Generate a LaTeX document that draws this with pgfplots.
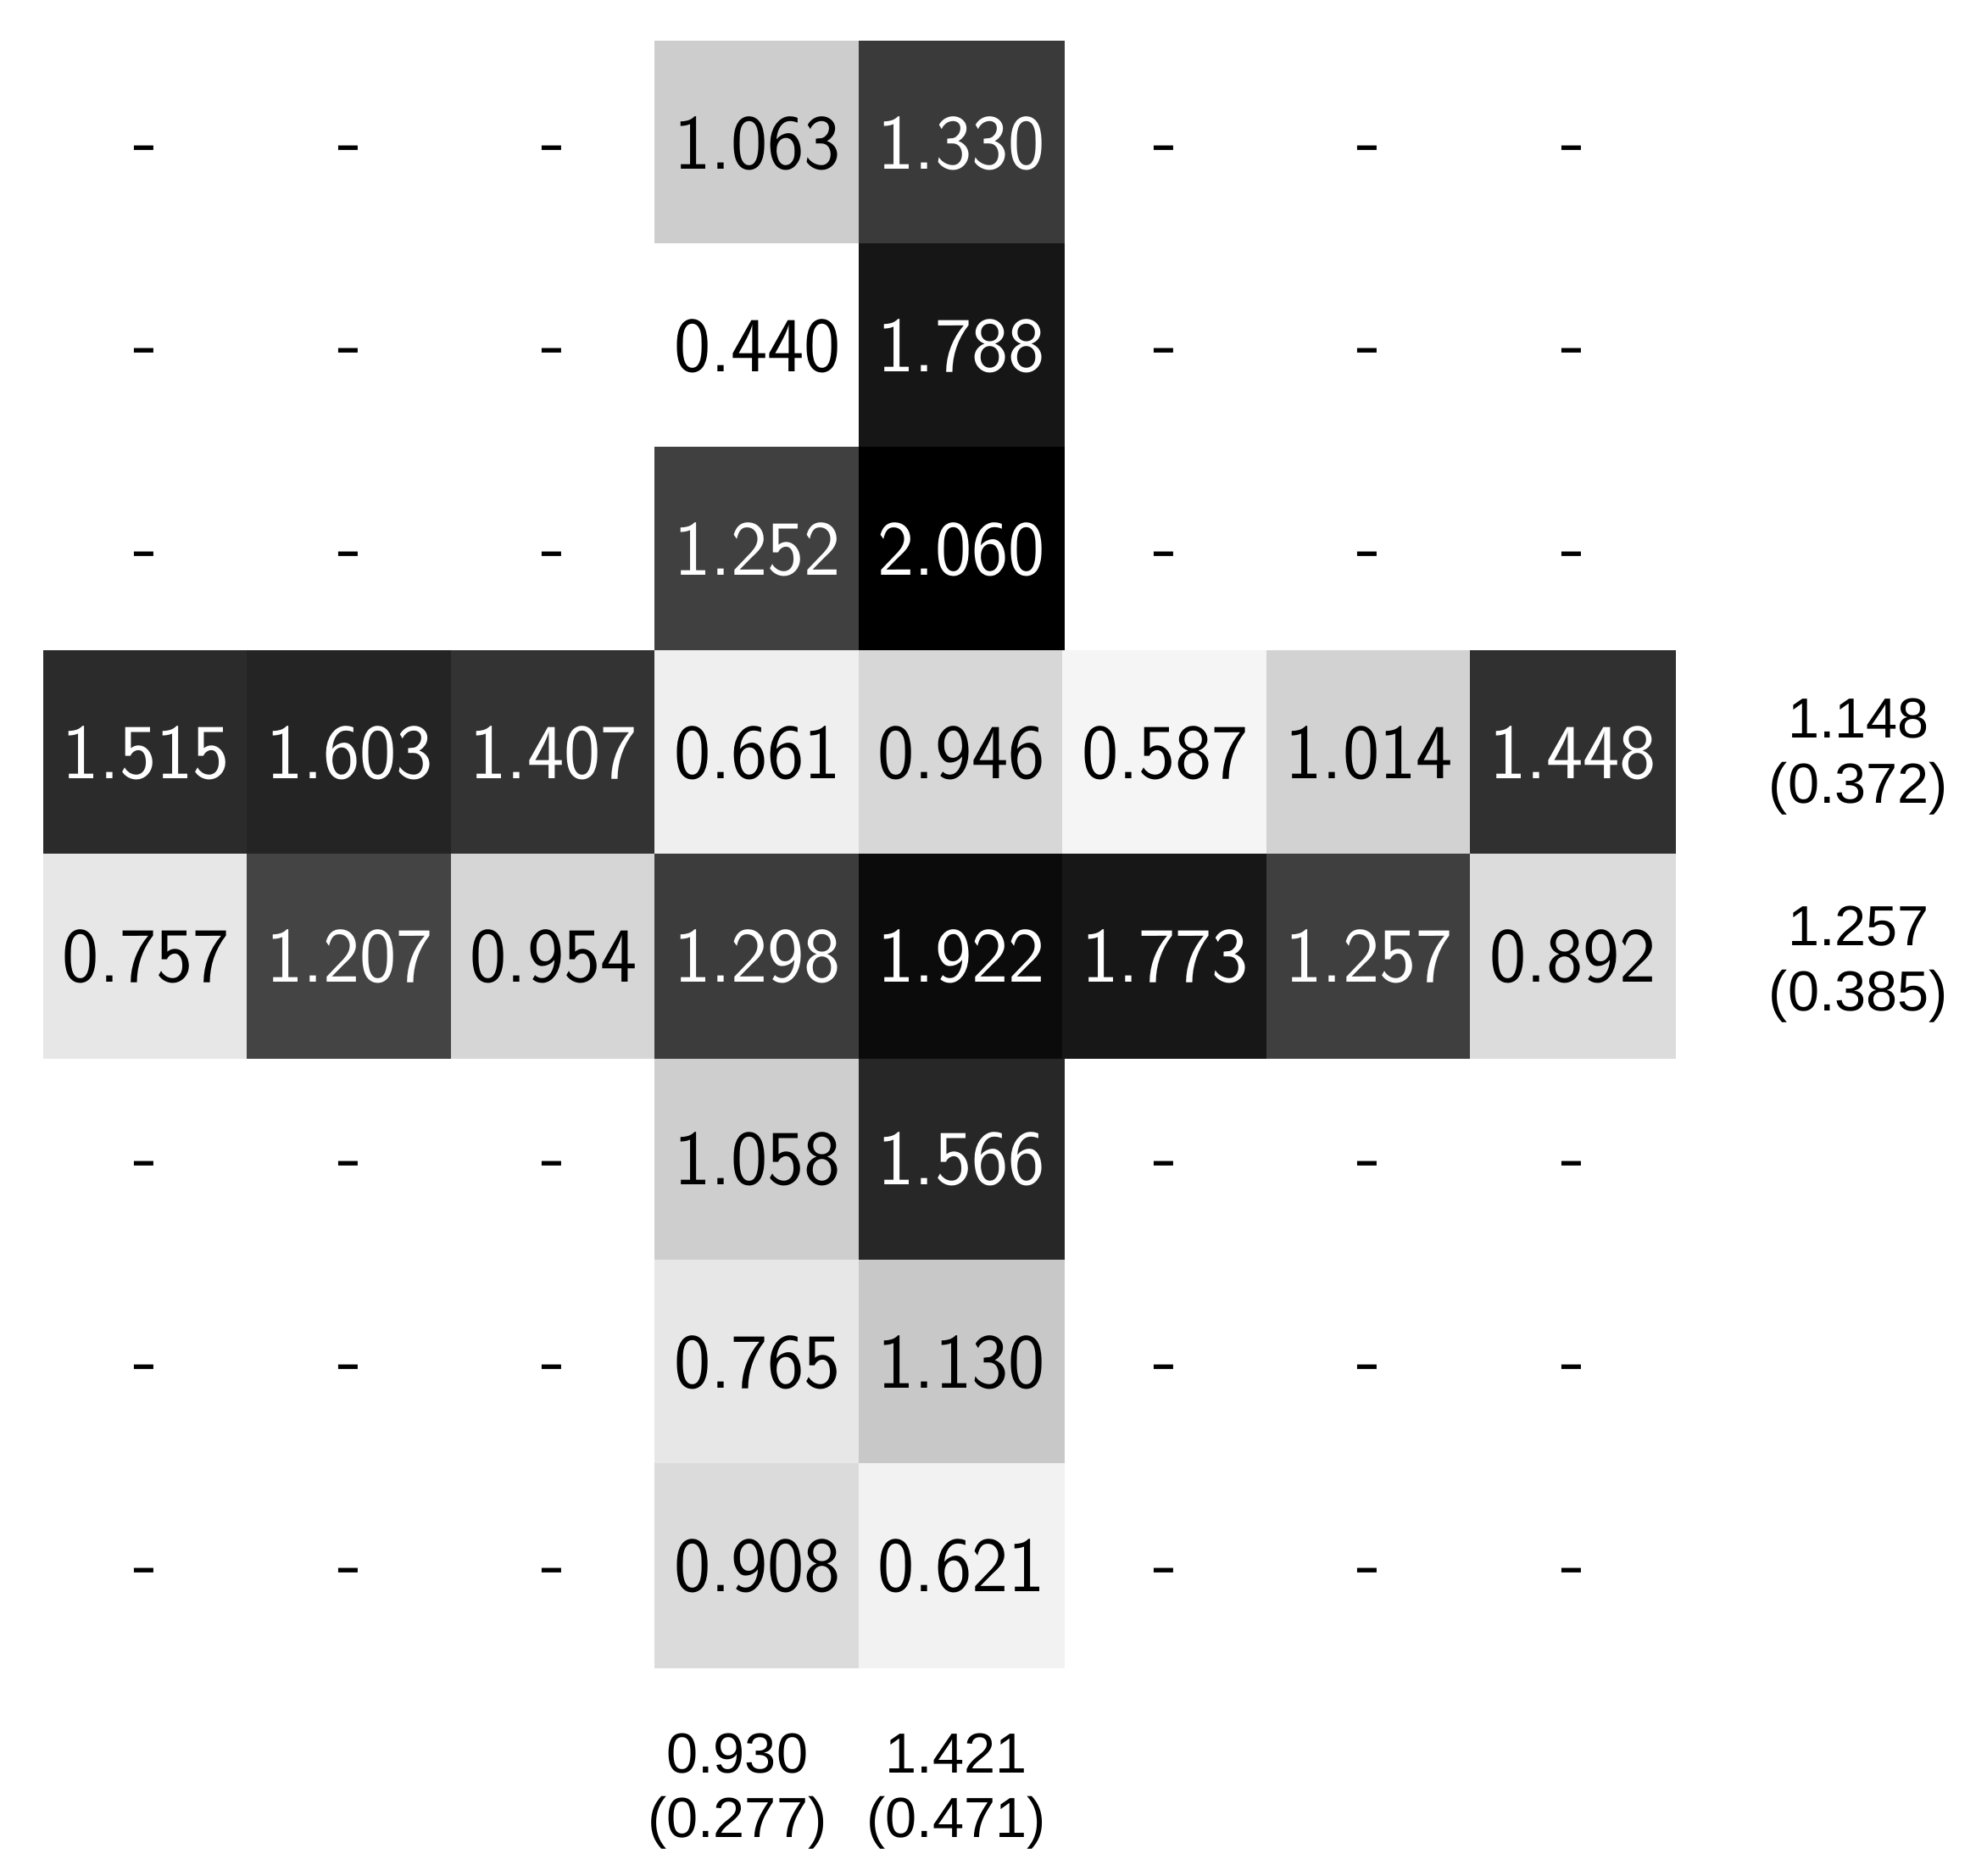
\documentclass[border=0pt]{standalone}
\usepackage{pgfplots}
\pgfplotsset{compat=1.18}
\usepackage{pgfplotstable}
\usepackage{graphicx}
\usepackage{fontspec}
\newfontfamily\margfont{Liberation Sans}
\newfontfamily\cellfont{lmsans17-regular}[Extension=.otf]

% column block: columns 3,4 ; rows 0..7 (value, gray level 0..1)
\pgfplotstableread{
x y v g
3 0 1.063 0.800
4 0 1.330 0.224
3 1 0.440 1.000
4 1 1.788 0.084
3 2 1.252 0.249
4 2 2.060 0.000
3 3 0.661 0.929
4 3 0.946 0.839
3 4 1.298 0.235
4 4 1.922 0.043
3 5 1.058 0.804
4 5 1.566 0.153
3 6 0.765 0.898
4 6 1.130 0.780
3 7 0.908 0.851
4 7 0.621 0.941
}\colblock

% row block: rows 3,4 ; columns 0..7
\pgfplotstableread{
x y v g
0 3 1.515 0.169
1 3 1.603 0.141
2 3 1.407 0.200
3 3 0.661 0.929
4 3 0.946 0.839
5 3 0.587 0.953
6 3 1.014 0.816
7 3 1.448 0.188
0 4 0.757 0.898
1 4 1.207 0.263
2 4 0.954 0.835
3 4 1.298 0.235
4 4 1.922 0.043
5 4 1.773 0.088
6 4 1.257 0.247
7 4 0.892 0.855
}\rowblock

% labels on dark cells (white text)
\pgfplotstableread{
x y label
4 0 1.330
4 1 1.788
3 2 1.252
4 2 2.060
0 3 1.515
1 3 1.603
2 3 1.407
7 3 1.448
1 4 1.207
3 4 1.298
4 4 1.922
5 4 1.773
6 4 1.257
4 5 1.566
}\whitelabels

% labels on light cells (black text)
\pgfplotstableread{
x y label
3 0 1.063
3 1 0.440
3 3 0.661
4 3 0.946
5 3 0.587
6 3 1.014
0 4 0.757
2 4 0.954
7 4 0.892
3 5 1.058
3 6 0.765
4 6 1.130
3 7 0.908
4 7 0.621
}\blacklabels

% empty cells
\pgfplotstableread{
x y label
0 0 -
1 0 -
2 0 -
5 0 -
6 0 -
7 0 -
0 1 -
1 1 -
2 1 -
5 1 -
6 1 -
7 1 -
0 2 -
1 2 -
2 2 -
5 2 -
6 2 -
7 2 -
0 5 -
1 5 -
2 5 -
5 5 -
6 5 -
7 5 -
0 6 -
1 6 -
2 6 -
5 6 -
6 6 -
7 6 -
0 7 -
1 7 -
2 7 -
5 7 -
6 7 -
7 7 -
}\dashes

\begin{document}
\begin{tikzpicture}
\begin{axis}[
  scale only axis,
  width=288.6pt, height=287.7pt,
  xmin=-0.5, xmax=7.5, ymin=-0.5, ymax=7.5,
  y dir=reverse,
  hide axis, clip=false,
  colormap={bw}{gray(0cm)=(0); gray(1cm)=(1)},
  point meta min=0, point meta max=1,
  celltext/.style={
    draw=none, mark=none,
    point meta=explicit symbolic,
    nodes near coords={\pgfplotspointmeta},
    every node near coord/.append style={anchor=center, inner sep=0pt,
      font=\cellfont\fontsize{13.8}{16}\selectfont},
  },
]
\addplot[matrix plot*, mesh/cols=2, point meta=explicit] table[x=x, y=y, meta=g] {\colblock};
\addplot[matrix plot*, mesh/cols=8, point meta=explicit] table[x=x, y=y, meta=g] {\rowblock};

\addplot[celltext, every node near coord/.append style={text=white}] table[x=x, y=y, meta=label] {\whitelabels};
\addplot[celltext, every node near coord/.append style={text=black}] table[x=x, y=y, meta=label] {\blacklabels};
\addplot[celltext, every node near coord/.append style={text=black, yshift=-2.1pt}] table[x=x, y=y, meta=label] {\dashes};

\node[font=\margfont\fontsize{10}{11.5}\selectfont, align=center] at (axis cs:8.40,3.02) {1.148\\(0.372)};
\node[font=\margfont\fontsize{10}{11.5}\selectfont, align=center] at (axis cs:8.40,4.04) {1.257\\(0.385)};
\node[font=\margfont\fontsize{10}{11.5}\selectfont, align=center] at (axis cs:2.90,8.11) {0.930\\(0.277)};
\node[font=\margfont\fontsize{10}{11.5}\selectfont, align=center] at (axis cs:3.975,8.11) {1.421\\(0.471)};
\end{axis}
\path (current axis.south west) ++(-7.8pt,-36.9pt) coordinate (BL);
\path (current axis.north east) ++(55.2pt,7.35pt) coordinate (TR);
\pgfresetboundingbox
\path (BL) rectangle (TR);
\end{tikzpicture}
\end{document}
